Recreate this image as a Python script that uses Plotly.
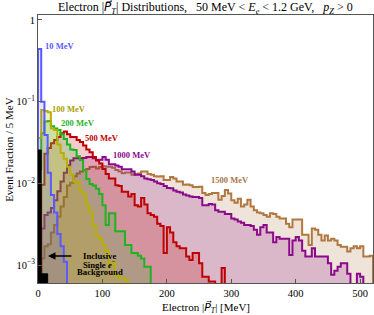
import math
import plotly.graph_objects as go

# ---------------- data (event fraction per 5 MeV bin, bins start at 0 MeV) ----------------
BIN_MEV = 5
X_MAX = 520

x_tick_vals = [0, 100, 200, 300, 400, 500]
y_tick_vals = [1, 0.1, 0.01, 0.001]
y_tick_text = ["1", "10<sup>−1</sup>", "10<sup>−2</sup>", "10<sup>−3</sup>"]

background = [0.0256, 0.00078, 0.00078]

mass_10 = [0.44, 0.10, 0.039, 0.0135, 0.0072, 0.0044, 0.0024, 0.0017, 0.0011]

mass_100 = [0.036, 0.079, 0.077, 0.074, 0.047, 0.045, 0.030, 0.0235, 0.020, 0.016,
            0.0127, 0.0105, 0.0102, 0.0080, 0.0074, 0.0054, 0.0045, 0.0031, 0.0023, 0.0021,
            0.00176, 0.0015, 0.0010, 0.0011, 0.00075, 0.0007, 0.0007, 0.00065]

mass_200 = [0.015, 0.041, 0.057, 0.058, 0.050, 0.047, 0.045, 0.040, 0.035, 0.030,
            0.026, 0.0256, 0.0215, 0.0193, 0.0145, 0.0113, 0.0098, 0.0094, 0.0086, 0.0074,
            0.0054, 0.0031, 0.0043, 0.0043, 0.0026, 0.0026, 0.0026, 0.00176, 0.00176, 0.0014,
            0.0014, 0.0013, 0.0012, 0.00095, 0.00095]

mass_500 = [0, 0.0096, 0.023, 0.027, 0.031, 0.034, 0.037, 0.041, 0.043, 0.040,
            0.037, 0.037, 0.034, 0.032, 0.029, 0.026, 0.024, 0.021, 0.019, 0.0175,
            0.015, 0.013, 0.0115, 0.0115, 0.0095, 0.0093, 0.0079, 0.0079, 0.0069, 0.0074,
            0.0054, 0.0052, 0.0066, 0.0055, 0.0043, 0.0041, 0.0039, 0.0032, 0.0030, 0.0014,
            0.0029, 0.0025, 0.0019, 0.0017, 0.0016, 0.0016, 0.00127, 0.00115, 0.0014, 0.0014,
            0.00105, 0.00072, 0.00072, 0.00063, 0.00063, 0, 0, 0.00092]

mass_1000 = [0, 0.0028, 0.0041, 0.0044, 0.0050, 0.0062, 0.0080, 0.0105, 0.0135, 0.0165,
             0.019, 0.0203, 0.0203, 0.0203, 0.0205, 0.021, 0.021, 0.0203, 0.0195, 0.0195,
             0.021, 0.0195, 0.0171, 0.0171, 0.0165, 0.0160, 0.0149, 0.0149, 0.0149, 0.0140,
             0.0127, 0.0127, 0.0122, 0.0115, 0.0112, 0.0110, 0.0105, 0.0100, 0.0098, 0.0093,
             0.0088, 0.0087, 0.0082, 0.0079, 0.0077, 0.0073, 0.0071, 0.0069, 0.0068, 0.0068,
             0.0066, 0.0054, 0.0054, 0.0056, 0.0055, 0.0047, 0.0045, 0.0045, 0.0042, 0.0042,
             0.0037, 0.0036, 0.0034, 0.0033, 0.0031, 0.0031, 0.0030, 0.0027, 0.00234, 0.0029,
             0.0031, 0.0025, 0.0025, 0.0019, 0.0022, 0.0021, 0.0021, 0.0021, 0.00133, 0.0020,
             0.0022, 0.0020, 0.0015, 0.00127, 0.00127, 0.0016, 0.00127, 0.00127, 0.00127, 0.00127,
             0.00105, 0.00076, 0.00085, 0.00095, 0.00105, 0.00105, 0.00078, 0, 0, 0.00078,
             0.00072, 0, 0, 0]

mass_1500 = [0, 0.0012, 0.0017, 0.0018, 0.0025, 0.0031, 0.0039, 0.0052, 0.0068, 0.0094,
             0.0102, 0.0122, 0.0132, 0.0140, 0.0145, 0.0150, 0.0158, 0.0160, 0.0152, 0.0158,
             0.0162, 0.0160, 0.0160, 0.0155, 0.0146, 0.0140, 0.0133, 0.0136, 0.0136, 0.0127,
             0.0130, 0.0132, 0.0140, 0.0140, 0.0130, 0.0127, 0.0122, 0.0121, 0.0122, 0.0110,
             0.0110, 0.0120, 0.0115, 0.0105, 0.0105, 0.0096, 0.0097, 0.0095, 0.0090, 0.0090,
             0.0091, 0.0076, 0.0072, 0.0074, 0.0076, 0.0076, 0.0063, 0.0070, 0.0083, 0.0075,
             0.0062, 0.0058, 0.0065, 0.0052, 0.0055, 0.0063, 0.0052, 0.0047, 0.0044, 0.0043,
             0.0041, 0.0039, 0.0043, 0.0042, 0.0039, 0.0037, 0.0037, 0.0032, 0.0029, 0.0036,
             0.0036, 0.0036, 0.00234, 0.00234, 0.00176, 0.0028, 0.0027, 0.00234, 0.0020, 0.0023,
             0.0020, 0.0021, 0.0020, 0.00176, 0.00168, 0.00168, 0.00146, 0.0016, 0.0017, 0.0016,
             0.0017, 0.00127, 0.00127, 0.0013]

# ---------------- styling ----------------
SERIF = "Liberation Serif, Times New Roman, serif"
FLOOR = 1e-6  # empty bins drop below the visible range
PVEC = "<span style=\"font-family:DejaVu Sans\"><i>P\u20d7</i></span>"


def step_path(vals):
    edges = [BIN_MEV * i for i in range(len(vals) + 1)]
    ys = [v if v > 0 else FLOOR for v in vals]
    xs = [edges[0]] + edges[:-1] + [edges[-1]]
    ys = [FLOOR] + ys + [FLOOR]
    return xs, ys


series = [
    (mass_1500, "#b07840", "rgba(176,120,64,0.20)"),
    (mass_1000, "#8b0a8b", "rgba(139,10,139,0.20)"),
    (mass_500, "#c00000", "rgba(192,0,0,0.20)"),
    (mass_200, "#1fb41f", "rgba(31,180,31,0.20)"),
    (mass_100, "#b8b000", "rgba(184,176,0,0.22)"),
    (mass_10, "#5a5aff", "rgba(90,90,255,0.15)"),
]

fig = go.Figure()
for vals, lc, fc in series:
    xs, ys = step_path(vals)
    fig.add_trace(go.Scatter(x=xs, y=ys, mode="lines", line=dict(shape="hv", color=lc, width=2),
                             fill="toself", fillcolor=fc, hoverinfo="skip", showlegend=False))

xs, ys = step_path(background)
fig.add_trace(go.Scatter(x=xs, y=ys, mode="lines", line=dict(shape="hv", color="black", width=1),
                         fill="toself", fillcolor="black", hoverinfo="skip", showlegend=False))

labels = [
    ("10 MeV", 33, -0.318, "#5a5aff"),
    ("100 MeV", 48.8, -1.089, "#a8a000"),
    ("200 MeV", 62.7, -1.257, "#1fb41f"),
    ("500 MeV", 98.9, -1.448, "#c00000"),
    ("1000 MeV", 145.5, -1.652, "#8b0a8b"),
    ("1500 MeV", 297.7, -1.958, "#a8764a"),
]
for txt, x, y, c in labels:
    fig.add_annotation(x=x, y=y, xref="x", yref="y", text="<b>%s</b>" % txt, showarrow=False,
                       font=dict(family=SERIF, size=8.5, color=c))

for txt, y in [("Inclusive", -2.886), ("Single <i>e</i><sup>−</sup>", -2.995), ("Background", -3.085)]:
    fig.add_annotation(x=96, y=y, xref="x", yref="y", text="<b>%s</b>" % txt, showarrow=False,
                       font=dict(family=SERIF, size=8.7, color="black"))

fig.add_annotation(x=15.5, y=-2.889, ax=54.3, ay=-2.889, xref="x", yref="y", axref="x", ayref="y",
                   text="", showarrow=True, arrowhead=2, arrowsize=1, arrowwidth=1.5, arrowcolor="black")

fig.add_annotation(x=0.5, y=1.026, xref="paper", yref="paper", xanchor="center", yanchor="middle",
                   text="Electron |" + PVEC + "<sub><i>T</i></sub>| Distributions,&nbsp;&nbsp; 50 MeV &lt; <i>E</i><sub><i>e</i></sub> &lt; 1.2 GeV,&nbsp;&nbsp; <i>p</i><sub><i>Z</i></sub> &gt; 0",
                   showarrow=False, font=dict(family=SERIF, size=12, color="black"))
fig.add_annotation(x=0.5, y=-0.09, xref="paper", yref="paper", xanchor="center", yanchor="middle",
                   text="Electron |" + PVEC + "<sub><i>T</i></sub>| [MeV]", showarrow=False,
                   font=dict(family=SERIF, size=11, color="black"))
fig.add_annotation(x=-0.087, y=0.5, xref="paper", yref="paper", xanchor="center", yanchor="middle",
                   textangle=-90, text="Event Fraction / 5 MeV", showarrow=False,
                   font=dict(family=SERIF, size=11, color="black"))

axis_common = dict(showline=True, linecolor="#555", linewidth=1, mirror=True, ticks="inside",
                   ticklen=4, tickcolor="#555", showgrid=False, zeroline=False,
                   tickfont=dict(family=SERIF, size=10.5, color="black"))
fig.update_layout(
    width=374, height=315, margin=dict(l=38, r=1, t=15, b=32),
    paper_bgcolor="white", plot_bgcolor="white", showlegend=False,
    xaxis=dict(range=[0, X_MAX], tickvals=x_tick_vals, **axis_common),
    yaxis=dict(type="log", range=[-3.22, 0.061], tickvals=y_tick_vals, ticktext=y_tick_text,
               **axis_common),
)

fig.write_html("out.html", config={"displayModeBar": False},
               post_script="document.body.style.margin='0';document.body.style.padding='0';")
